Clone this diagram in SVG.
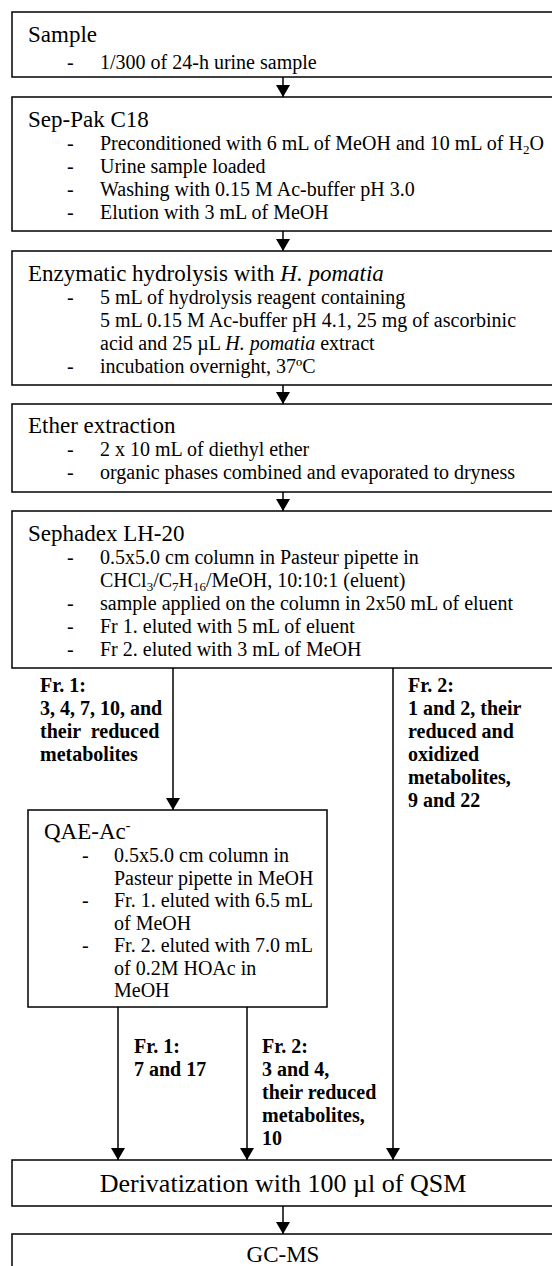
<svg xmlns="http://www.w3.org/2000/svg" width="552" height="1266" viewBox="0 0 552 1266">
<style>
.box{fill:#fff;stroke:#000;stroke-width:1.5}
.t{font-family:"Liberation Serif","Times New Roman",serif;font-size:23px;fill:#000}
.b{font-family:"Liberation Serif","Times New Roman",serif;font-size:20px;fill:#000}
.l{font-family:"Liberation Serif","Times New Roman",serif;font-size:20px;font-weight:bold;fill:#000}
.c{text-anchor:middle}
.big{font-size:26px}
.ln{stroke:#000;stroke-width:1.5;fill:none}
</style>
<defs>
<marker id="ah" viewBox="0 0 12 14" refX="12" refY="7" markerWidth="12" markerHeight="14" markerUnits="userSpaceOnUse" orient="auto">
<path d="M0,0 L12,7 L0,14 Z" fill="#000"/>
</marker>
</defs>
<rect width="552" height="1266" fill="#fff"/>

<g id="sample">
<rect class="box" x="12" y="12" width="550" height="65"/>
<text class="t" x="28" y="42">Sample</text>
<text class="b" x="67" y="69">-</text>
<text class="b" x="100" y="69">1/300 of 24-h urine sample</text>
</g>

<g id="seppak">
<rect class="box" x="12" y="97" width="550" height="134"/>
<text class="t" x="28" y="127">Sep-Pak C18</text>
<text class="b" x="67" y="150">-</text>
<text class="b" x="100" y="150">Preconditioned with 6 mL of MeOH and 10 mL of H<tspan font-size="13" dy="4">2</tspan><tspan dy="-4">O</tspan></text>
<text class="b" x="67" y="173">-</text>
<text class="b" x="100" y="173">Urine sample loaded</text>
<text class="b" x="67" y="196">-</text>
<text class="b" x="100" y="196">Washing with 0.15 M Ac-buffer pH 3.0</text>
<text class="b" x="67" y="219">-</text>
<text class="b" x="100" y="219">Elution with 3 mL of MeOH</text>
</g>

<g id="hydrolysis">
<rect class="box" x="12" y="251" width="550" height="134"/>
<text class="t" x="28" y="281">Enzymatic hydrolysis with <tspan font-style="italic">H. pomatia</tspan></text>
<text class="b" x="67" y="304">-</text>
<text class="b" x="100" y="304">5 mL of hydrolysis reagent containing</text>
<text class="b" x="100" y="327">5 mL 0.15 M Ac-buffer pH 4.1, 25 mg of ascorbinic</text>
<text class="b" x="100" y="350">acid and 25 µL <tspan font-style="italic">H. pomatia</tspan> extract</text>
<text class="b" x="67" y="373">-</text>
<text class="b" x="100" y="373">incubation overnight, 37ºC</text>
</g>

<g id="ether">
<rect class="box" x="12" y="404" width="550" height="88"/>
<text class="t" x="28" y="433">Ether extraction</text>
<text class="b" x="67" y="456">-</text>
<text class="b" x="100" y="456">2 x 10 mL of diethyl ether</text>
<text class="b" x="67" y="479">-</text>
<text class="b" x="100" y="479">organic phases combined and evaporated to dryness</text>
</g>

<g id="sephadex">
<rect class="box" x="12" y="511" width="550" height="157"/>
<text class="t" x="28" y="541">Sephadex LH-20</text>
<text class="b" x="67" y="564">-</text>
<text class="b" x="100" y="564">0.5x5.0 cm column in Pasteur pipette in</text>
<text class="b" x="100" y="587">CHCl<tspan font-size="13" dy="4">3</tspan><tspan dy="-4">/C</tspan><tspan font-size="13" dy="4">7</tspan><tspan dy="-4">H</tspan><tspan font-size="13" dy="4">16</tspan><tspan dy="-4">/MeOH, 10:10:1 (eluent)</tspan></text>
<text class="b" x="67" y="610">-</text>
<text class="b" x="100" y="610">sample applied on the column in 2x50 mL of eluent</text>
<text class="b" x="67" y="633">-</text>
<text class="b" x="100" y="633">Fr 1. eluted with 5 mL of eluent</text>
<text class="b" x="67" y="656">-</text>
<text class="b" x="100" y="656">Fr 2. eluted with 3 mL of MeOH</text>
</g>

<g id="qae">
<rect class="box" x="28" y="810" width="299" height="197"/>
<text class="t" x="44" y="839">QAE-Ac<tspan font-size="14" dy="-9">-</tspan></text>
<text class="b" x="82" y="862">-</text>
<text class="b" x="114" y="862">0.5x5.0 cm column in</text>
<text class="b" x="114" y="884.5">Pasteur pipette in MeOH</text>
<text class="b" x="82" y="907">-</text>
<text class="b" x="114" y="907">Fr. 1. eluted with 6.5 mL</text>
<text class="b" x="114" y="929.5">of MeOH</text>
<text class="b" x="82" y="952">-</text>
<text class="b" x="114" y="952">Fr. 2. eluted with 7.0 mL</text>
<text class="b" x="114" y="974.5">of 0.2M HOAc in</text>
<text class="b" x="114" y="997">MeOH</text>
</g>

<g id="derivatization">
<rect class="box" x="12" y="1160" width="550" height="46"/>
<text class="t c big" x="283" y="1192">Derivatization with 100 µl of QSM</text>
</g>

<g id="gcms">
<rect class="box" x="12" y="1234" width="550" height="40"/>
<text class="t c" x="283" y="1262">GC-MS</text>
</g>

<g id="connectors">
<line class="ln" x1="283" y1="77" x2="283" y2="97" marker-end="url(#ah)"/>
<line class="ln" x1="283" y1="231" x2="283" y2="251" marker-end="url(#ah)"/>
<line class="ln" x1="283" y1="385" x2="283" y2="404" marker-end="url(#ah)"/>
<line class="ln" x1="283" y1="492" x2="283" y2="511" marker-end="url(#ah)"/>
<line class="ln" x1="173" y1="668" x2="173" y2="810" marker-end="url(#ah)"/>
<line class="ln" x1="393" y1="668" x2="393" y2="1160" marker-end="url(#ah)"/>
<line class="ln" x1="118" y1="1007" x2="118" y2="1160" marker-end="url(#ah)"/>
<line class="ln" x1="247" y1="1007" x2="247" y2="1160" marker-end="url(#ah)"/>
<line class="ln" x1="283" y1="1206" x2="283" y2="1234" marker-end="url(#ah)"/>
</g>

<g id="labels">
<text class="l" x="40" y="692">Fr. 1:</text>
<text class="l" x="40" y="715">3, 4, 7, 10, and</text>
<text class="l" x="40" y="738" xml:space="preserve">their  reduced</text>
<text class="l" x="40" y="761">metabolites</text>
<text class="l" x="408" y="692">Fr. 2:</text>
<text class="l" x="408" y="715">1 and 2, their</text>
<text class="l" x="408" y="738">reduced and</text>
<text class="l" x="408" y="761">oxidized</text>
<text class="l" x="408" y="784">metabolites,</text>
<text class="l" x="408" y="807">9 and 22</text>
<text class="l" x="134" y="1053">Fr. 1:</text>
<text class="l" x="134" y="1076">7 and 17</text>
<text class="l" x="262" y="1053">Fr. 2:</text>
<text class="l" x="262" y="1076">3 and 4,</text>
<text class="l" x="262" y="1099">their reduced</text>
<text class="l" x="262" y="1122">metabolites,</text>
<text class="l" x="262" y="1145">10</text>
</g>
</svg>
